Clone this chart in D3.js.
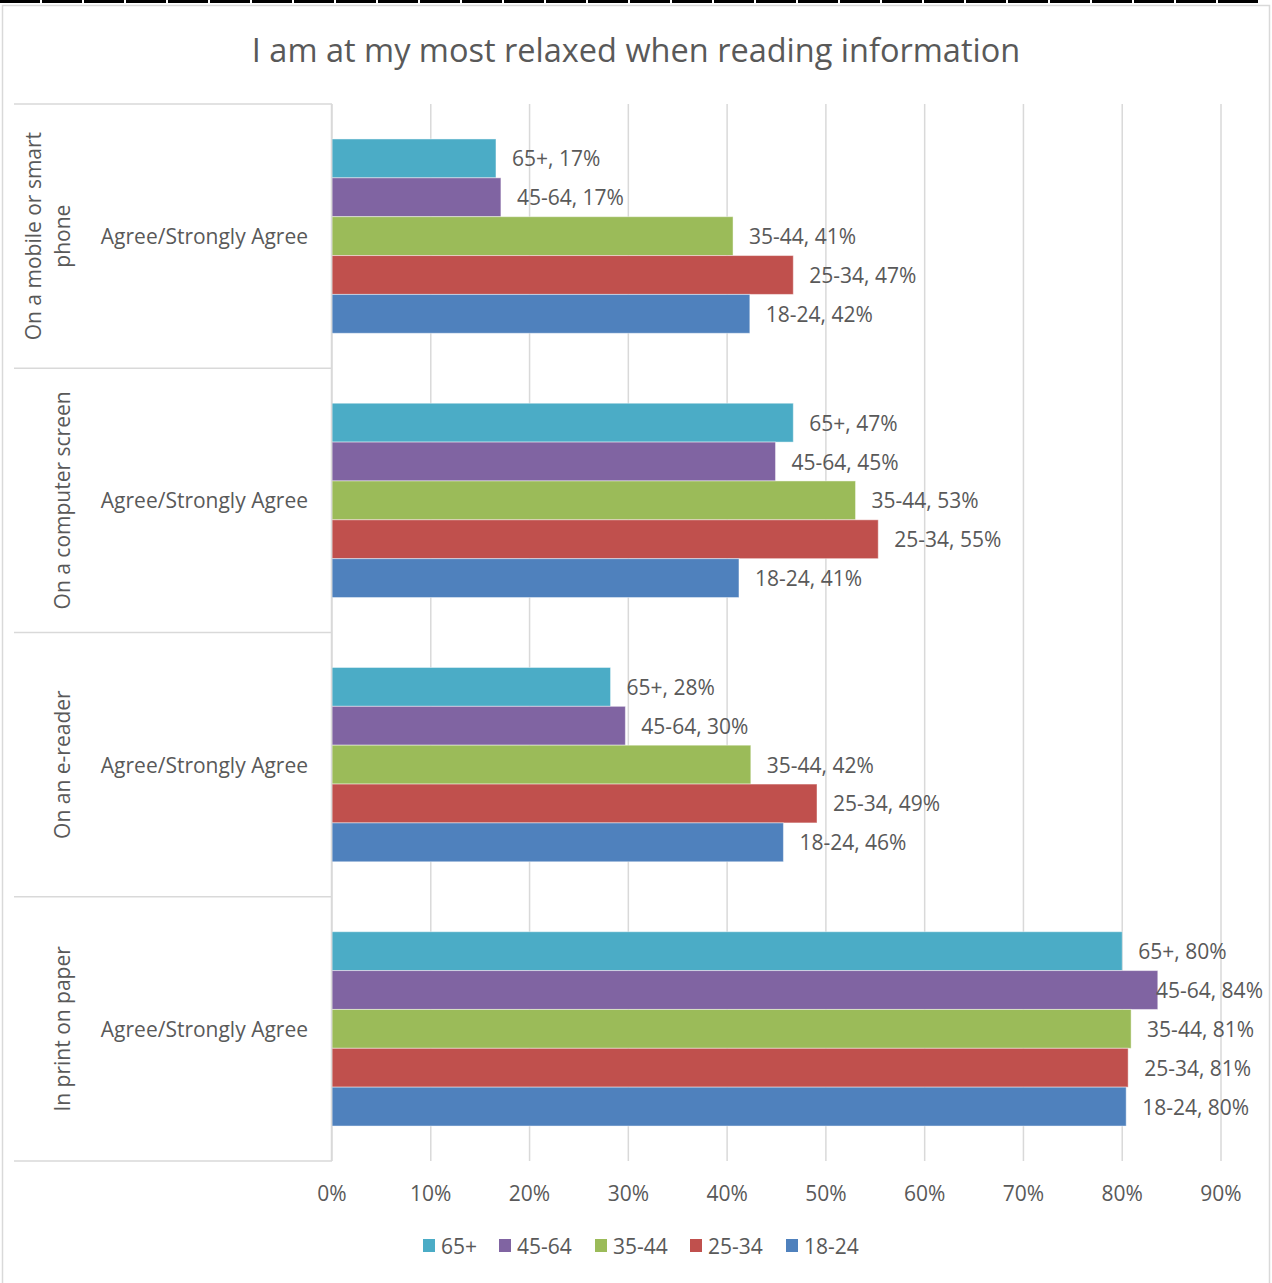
<!DOCTYPE html>
<html>
<head>
<meta charset="utf-8">
<script src="https://cdn.jsdelivr.net/npm/d3@7"></script>
<style>
  body { margin: 0; background: #fff; }
  svg text { font-family: "Open Sans", Lato, sans-serif; fill: #595959; }
</style>
</head>
<body>
<div id="chart"></div>
<script>
"use strict"

// data
let groups = [["On a mobile or smart", "phone"], ["On a computer screen"], ["On an e-reader"], ["In print on paper"]];
let groupKeys = ["mobile", "computer", "ereader", "paper"];
let innerLabel = "Agree/Strongly Agree";
let series = ["65+", "45-64", "35-44", "25-34", "18-24"];
let colors = ["#4BACC6", "#8064A2", "#9BBB59", "#C0504D", "#4F81BD"];
let v65 = [0.166, 0.467, 0.282, 0.800];
let v4564 = [0.171, 0.449, 0.297, 0.836];
let v3544 = [0.406, 0.530, 0.424, 0.809];
let v2534 = [0.467, 0.553, 0.491, 0.806];
let v1824 = [0.423, 0.412, 0.457, 0.804];
let ticks = [0, 0.1, 0.2, 0.3, 0.4, 0.5, 0.6, 0.7, 0.8, 0.9];
let title = "I am at my most relaxed when reading information";

let values = [v65, v4564, v3544, v2534, v1824];

let W = 1272, H = 1283;
let plotLeft = 332, plotRight = 1221, plotTop = 104, plotBottom = 1161;
let gridColor = "#D9D9D9";
let fs = "21px";

let drawing = d3.select("#chart")
    .append("svg")
    .attr("width", W)
    .attr("height", H);

/* frame + dashed top rule */
drawing.append("rect")
    .attr("x", 2.5).attr("y", 5.5)
    .attr("width", 1267).attr("height", 1290)
    .attr("fill", "none").attr("stroke", gridColor).attr("stroke-width", 1.5);
drawing.append("line")
    .attr("x1", 0).attr("x2", 1260).attr("y1", 1.5).attr("y2", 1.5)
    .attr("stroke", "#000").attr("stroke-width", 3)
    .attr("stroke-dasharray", "40 2");

drawing.append("text")
    .attr("x", 636).attr("y", 49)
    .attr("text-anchor", "middle")
    .attr("dominant-baseline", "central")
    .style("font-size", "32.5px")
    .text(title);

let x = d3.scaleLinear().domain([0, 0.9]).range([plotLeft, plotRight]);
let yGroup = d3.scaleBand().domain(groupKeys).range([plotTop, plotBottom]);
let ySeries = d3.scaleBand().domain(series).range([0, yGroup.bandwidth()]).paddingOuter(0.9);

/* gridlines */
drawing.append("g")
    .selectAll("line")
    .data(ticks)
    .join("line")
    .attr("x1", d => x(d)).attr("x2", d => x(d))
    .attr("y1", plotTop).attr("y2", plotBottom)
    .attr("stroke", gridColor).attr("stroke-width", 1.5);

/* tick labels */
drawing.append("g")
    .selectAll("text")
    .data(ticks)
    .join("text")
    .attr("x", d => x(d)).attr("y", 1193)
    .attr("text-anchor", "middle")
    .attr("dominant-baseline", "central")
    .style("font-size", fs)
    .text(d3.format(".0%"));

/* category axis lines */
let seps = groupKeys.map(k => yGroup(k)).concat([plotBottom]);
drawing.append("g")
    .selectAll("line")
    .data(seps)
    .join("line")
    .attr("x1", 14).attr("x2", plotLeft)
    .attr("y1", d => d).attr("y2", d => d)
    .attr("stroke", gridColor).attr("stroke-width", 1.5);

/* category labels */
groupKeys.forEach((k, i) => {
    let cy = yGroup(k) + yGroup.bandwidth() / 2;
    let lines = groups[i];
    lines.forEach((ln, j) => {
        let cx = 62 - (lines.length - 1 - j) * 29;
        drawing.append("text")
            .attr("transform", `translate(${cx},${cy}) rotate(-90)`)
            .attr("text-anchor", "middle")
            .attr("dominant-baseline", "central")
            .style("font-size", fs)
            .text(ln);
    });
    drawing.append("text")
        .attr("x", 308).attr("y", cy)
        .attr("text-anchor", "end")
        .attr("dominant-baseline", "central")
        .style("font-size", fs)
        .text(innerLabel);
});

/* bars */
let fmt = d3.format(".0%");
groupKeys.forEach((k, gi) => {
    let g = drawing.append("g").attr("transform", `translate(0,${yGroup(k)})`);
    series.forEach((s, si) => {
        let v = values[si][gi];
        g.append("rect")
            .attr("x", x(0))
            .attr("y", ySeries(s))
            .attr("width", x(v) - x(0))
            .attr("height", ySeries.bandwidth())
            .attr("fill", colors[si])
            .attr("stroke", "#ffffff").attr("stroke-opacity", 0.45).attr("stroke-width", 1);
        let t = g.append("text")
            .attr("x", x(v) + 16)
            .attr("y", ySeries(s) + ySeries.bandwidth() / 2)
            .attr("dominant-baseline", "central")
            .style("font-size", fs)
            .text(s + ", " + fmt(v));
        let w = t.node().getComputedTextLength();
        if (x(v) + 16 + w > 1263) t.attr("x", 1263 - w);
    });
});

/* vertical axis line */
drawing.append("line")
    .attr("x1", plotLeft - 0.5).attr("x2", plotLeft - 0.5)
    .attr("y1", plotTop).attr("y2", plotBottom)
    .attr("stroke", gridColor).attr("stroke-width", 1.5);

/* legend */
let legendX = [423, 499, 595, 690, 786];
let legend = drawing.append("g")
    .selectAll("g")
    .data(series)
    .join("g")
    .attr("transform", (d, i) => `translate(${legendX[i]},1246)`);
legend.append("rect")
    .attr("x", 0).attr("y", -7)
    .attr("width", 12).attr("height", 13)
    .attr("fill", (d, i) => colors[i]);
legend.append("text")
    .attr("x", 18).attr("y", 0)
    .attr("dominant-baseline", "central")
    .style("font-size", fs)
    .text(d => d);
</script>
</body>
</html>
